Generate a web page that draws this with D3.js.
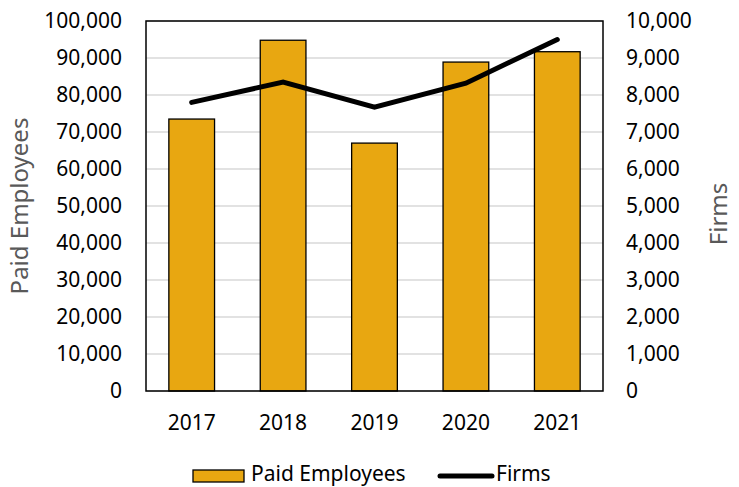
<!DOCTYPE html>
<html>
<head>
<meta charset="utf-8">
<script src="https://cdn.jsdelivr.net/npm/d3@7"></script>
<style>
  body { margin: 0; background: #fff; }
  text { font-family: "Noto Sans", "Open Sans", sans-serif; }
</style>
</head>
<body>
<svg id="chart"></svg>
<script>
const years = ['2017', '2018', '2019', '2020', '2021'];
const paidEmployees = [73500, 94800, 67000, 88900, 91700];
const firms = [7800, 8350, 7670, 8320, 9500];
const leftTicks = [0, 10000, 20000, 30000, 40000, 50000, 60000, 70000, 80000, 90000, 100000];
const rightTicks = [0, 1000, 2000, 3000, 4000, 5000, 6000, 7000, 8000, 9000, 10000];

const width = 739, height = 487;
const margin = {top: 21, right: 136, bottom: 96, left: 146};
const svg = d3.select('#chart').attr('width', width).attr('height', height);

const x = d3.scaleBand().domain(years).range([margin.left, width - margin.right]).paddingInner(0.5).paddingOuter(0.25);
const yL = d3.scaleLinear().domain([0, 100000]).range([height - margin.bottom, margin.top]);
const yR = d3.scaleLinear().domain([0, 10000]).range([height - margin.bottom, margin.top]);
const fmt = d3.format(',');

// gridlines
svg.append('g').selectAll('line').data(leftTicks).enter().append('line')
  .attr('x1', margin.left).attr('x2', width - margin.right)
  .attr('y1', d => yL(d)).attr('y2', d => yL(d))
  .attr('stroke', '#d9d9d9').attr('stroke-width', 1.3);

// bars
svg.append('g').selectAll('rect').data(years).enter().append('rect')
  .attr('x', d => x(d))
  .attr('y', (d, i) => yL(paidEmployees[i]))
  .attr('width', x.bandwidth())
  .attr('height', (d, i) => yL(0) - yL(paidEmployees[i]))
  .attr('fill', '#e8a711').attr('stroke', '#000').attr('stroke-width', 1.3);

// line
const line = d3.line().x((d, i) => x(years[i]) + x.bandwidth() / 2).y(d => yR(d));
svg.append('path').datum(firms).attr('d', line)
  .attr('fill', 'none').attr('stroke', '#000').attr('stroke-width', 5).attr('stroke-linecap', 'round');

// frame
svg.append('rect')
  .attr('x', margin.left).attr('y', margin.top)
  .attr('width', width - margin.left - margin.right)
  .attr('height', height - margin.top - margin.bottom)
  .attr('fill', 'none').attr('stroke', '#000').attr('stroke-width', 1.5);

// axes
const axL = svg.append('g').attr('transform', `translate(${margin.left},0)`)
  .call(d3.axisLeft(yL).tickValues(leftTicks).tickFormat(fmt).tickSize(0).tickPadding(24));
const axR = svg.append('g').attr('transform', `translate(${width - margin.right},0)`)
  .call(d3.axisRight(yR).tickValues(rightTicks).tickFormat(fmt).tickSize(0).tickPadding(23));
const axB = svg.append('g').attr('transform', `translate(0,${height - margin.bottom})`)
  .call(d3.axisBottom(x).tickSize(0).tickPadding(24));
[axL, axR, axB].forEach(a => {
  a.select('.domain').remove();
  a.selectAll('text').attr('font-size', 21).attr('fill', '#000')
    .style('font-family', '"Noto Sans", sans-serif');
});

// axis titles
svg.append('text').attr('transform', `translate(28,${(margin.top + height - margin.bottom) / 2}) rotate(-90)`)
  .attr('text-anchor', 'middle').attr('font-size', 24).attr('fill', '#595959').text('Paid Employees');
svg.append('text').attr('transform', `translate(727,214) rotate(-90)`)
  .attr('text-anchor', 'middle').attr('font-size', 24).attr('fill', '#595959').text('Firms');

// legend
const lg = svg.append('g');
lg.append('rect').attr('x', 193).attr('y', 470).attr('width', 51).attr('height', 12)
  .attr('fill', '#e8a711').attr('stroke', '#000').attr('stroke-width', 1.3);
lg.append('text').attr('x', 251).attr('y', 481).attr('font-size', 21).text('Paid Employees');
lg.append('line').attr('x1', 440).attr('x2', 492).attr('y1', 476).attr('y2', 476)
  .attr('stroke', '#000').attr('stroke-width', 5).attr('stroke-linecap', 'round');
lg.append('text').attr('x', 496).attr('y', 481).attr('font-size', 21).text('Firms');
</script>
</body>
</html>
